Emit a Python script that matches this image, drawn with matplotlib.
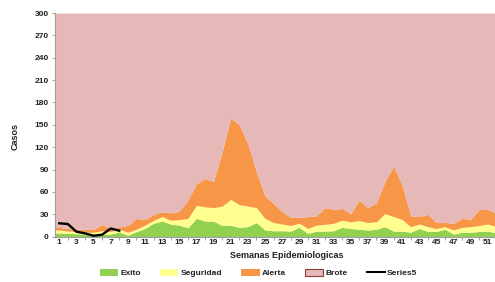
import numpy as np
import matplotlib
matplotlib.use("Agg")
import matplotlib.pyplot as plt
from matplotlib.patches import Patch
from matplotlib.lines import Line2D

plt.rcParams['font.family'] = ['Liberation Sans', 'DejaVu Sans']

weeks = list(range(1, 53))
# cumulative upper limits of each zone
exito = [5, 4.5, 4, 3.5, 2.5, 3, 3.5, 6.5, 2, 7, 11, 18, 21, 17, 15.5, 12, 24.5, 21, 21, 15,
         15.5, 12.5, 13.5, 19, 9, 8, 8, 7.5, 12.5, 4.5, 7.5, 7.5, 8, 12.5, 11, 10, 9, 10, 13.5, 7.5,
         7.5, 6, 11, 7, 7, 10, 3.5, 6, 6, 7, 7.5, 5]
seguridad = [9, 7.5, 7, 6, 6, 8, 7, 10, 6, 10, 15.5, 22, 27, 22, 23, 24.5, 42, 40, 39, 41,
             50, 43, 41, 39, 24.5, 19, 17, 15, 18, 11, 15.5, 16.5, 18, 22, 20, 21.5, 19, 20, 31, 27,
             23, 13.5, 17, 13.5, 11, 13.5, 9, 12.5, 13.5, 15, 17, 13.5]
alerta = [12.5, 11, 10, 10, 10, 16.5, 11, 13, 15, 24.5, 23, 30, 33.5, 32, 34, 49, 71, 78, 74, 114,
          159, 150, 125, 87, 54.5, 44.5, 33.5, 26, 26, 27, 28, 39, 36.5, 38, 31, 49, 39, 45.5, 74, 95,
          69, 28, 27, 30, 19, 19, 18, 24.5, 23.5, 36.5, 36.5, 31]
brote_top = 300
series5_weeks = [1, 2, 3, 4, 5, 6, 7, 8]
series5 = [18, 17, 6.7, 4.5, 1.3, 2.7, 11, 8]

yticks = list(range(0, 301, 30))
xticklabels = [str(w) for w in weeks if w % 2 == 1]

c_green = '#92D050'
c_yellow = '#FFFF8F'
c_orange = '#F79646'
c_pink = '#E6B8B7'

W, H = 495, 282
fig = plt.figure(figsize=(W / 100, H / 100), dpi=100)
left = 55 / W
bottom = (H - 236.7) / H
height = (236.7 - 13) / H
width = 52 * 8.57 / W
ax = fig.add_axes([left, bottom, width, height])

x0, x1 = 0.5, 52.5
xf = np.r_[x0, weeks, x1]
def pad(a):
    a = np.asarray(a, float)
    return np.r_[a[0], a, a[-1]]

ex, se, al = pad(exito), pad(seguridad), pad(alerta)
ax.fill_between(xf, 0, ex, color=c_green, lw=0)
ax.fill_between(xf, ex, se, color=c_yellow, lw=0)
ax.fill_between(xf, se, al, color=c_orange, lw=0)
ax.fill_between(xf, al, brote_top, color=c_pink, lw=0)
ax.plot(series5_weeks, series5, color='black', lw=1.7)

ax.set_xlim(x0, x1)
ax.set_ylim(0, 300)
ax.set_yticks(yticks)
ax.set_yticklabels([str(v) for v in yticks])
ax.set_xticks([w for w in weeks if w % 2 == 1])
ax.set_xticklabels(xticklabels)
ax.set_xticks([w for w in weeks if w % 2 == 0], minor=True)

for s in ['top', 'right']:
    ax.spines[s].set_visible(False)
for s in ['left', 'bottom']:
    ax.spines[s].set_color('#A0A0A0')
    ax.spines[s].set_linewidth(0.8)
ax.tick_params(axis='both', which='both', colors='#A0A0A0', labelcolor='#222222',
               labelsize=6, length=2.5, width=0.7, pad=2)
ax.tick_params(axis='x', which='major', length=0)
for t in ax.get_xticklabels() + ax.get_yticklabels():
    t.set_fontweight('bold')

fig.text(15 / W, (H - 137) / H, 'Casos', rotation=90, fontsize=6.5, fontweight='bold',
         ha='center', va='center', color='#222222')
fig.text(287 / W, (H - 256) / H, 'Semanas Epidemiologicas', fontsize=6.5, fontweight='bold',
         ha='center', va='center', color='#222222')

handles = [Patch(facecolor=c_green, edgecolor='none'),
           Patch(facecolor=c_yellow, edgecolor='none'),
           Patch(facecolor=c_orange, edgecolor='none'),
           Patch(facecolor=c_pink, edgecolor='#8B3A3A', linewidth=0.8),
           Line2D([0], [0], color='black', lw=1.5)]
labels = ['Exito', 'Seguridad', 'Alerta', 'Brote', 'Series5']
leg = fig.legend(handles, labels, ncol=5, loc='center left',
                 bbox_to_anchor=(100 / W, (H - 273) / H), frameon=False,
                 prop={'size': 6, 'weight': 'bold'}, handlelength=2.2, handleheight=0.9,
                 handletextpad=0.25, columnspacing=2.3, borderpad=0, borderaxespad=0)
for t in leg.get_texts():
    t.set_color('#222222')

fig.savefig('out.png', dpi=100)
